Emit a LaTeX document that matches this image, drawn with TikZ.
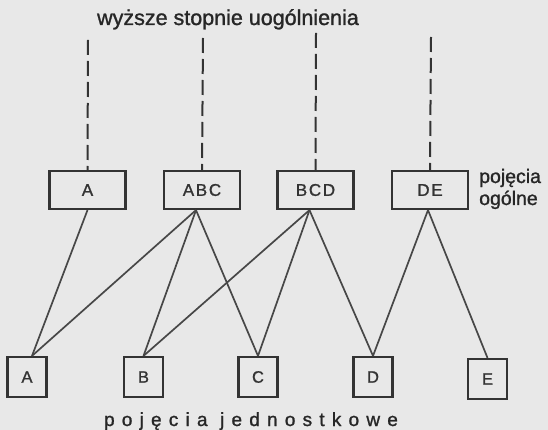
\documentclass[tikz,border=0pt]{standalone}
\usepackage{fontspec}
\setmainfont{Liberation Sans}[FakeBold=1.2]
\newfontfamily\labelfont{Liberation Sans}[FakeBold=1.2]
\begin{document}
\begin{tikzpicture}[x=1pt,y=-1pt,
  general/.style={draw=black!80, line width=2.2pt, minimum width=76pt,
    minimum height=38pt, inner sep=0pt, text=black!80,
    font=\labelfont\fontsize{17}{20}\selectfont\addfontfeatures{LetterSpace=10}},
  single/.style={draw=black!80, line width=2.2pt, minimum width=39pt,
    minimum height=40pt, inner sep=0pt, text=black!80,
    font=\labelfont\fontsize{16.5}{19}\selectfont},
  link/.style={draw=black!72, line width=1.7pt},
  upward/.style={draw=black!80, line width=2pt, dash pattern=on 15pt off 6pt},
  caption/.style={text=black!85, inner sep=0pt}
]
% paper
\fill[black!9] (0,0) rectangle (548,430);
\useasboundingbox (0,0) rectangle (548,430);

% general concepts
\node[general] (gA)   at (87.5,190) {A};
\node[general] (gABC) at (202,190)  {ABC};
\node[general] (gBCD) at (315.5,190) {BCD};
\node[general] (gDE)  at (430,190)  {DE};

% individual concepts
\node[single] (sA) at (27,377)    {A};
\node[single] (sB) at (143.5,377) {B};
\node[single] (sC) at (258,377)   {C};
\node[single] (sD) at (373,377)   {D};
\node[single] (sE) at (487.5,379) {E};

% higher levels of generalisation
\coordinate (uA)   at (88,40);
\coordinate (uABC) at (203,38);
\coordinate (uBCD) at (316,33);
\coordinate (uDE)  at (431,37);
\draw[upward] (uA)   -- (gA.north);
\draw[upward] (uABC) -- (gABC.north);
\draw[upward] (uBCD) -- (gBCD.north);
\draw[upward] (uDE)  -- (gDE.north);

% subordination links
\draw[link] (gA.south) -- ([xshift=5pt]sA.north);
\draw[link] ([xshift=-6pt]gABC.south) -- ([xshift=5pt]sA.north);
\draw[link] ([xshift=-6pt]gABC.south) -- (sB.north);
\draw[link] ([xshift=-6pt]gABC.south) -- (sC.north);
\draw[link] ([xshift=-6pt]gBCD.south) -- (sB.north);
\draw[link] ([xshift=-6pt]gBCD.south) -- (sC.north);
\draw[link] ([xshift=-6pt]gBCD.south) -- (sD.north);
\draw[link] ([xshift=-2pt]gDE.south) -- (sD.north);
\draw[link] ([xshift=-2pt]gDE.south) -- (sE.north);

% captions
\node[caption, anchor=base, font=\fontsize{21.5}{25}\selectfont] (top) at (228,25)
  {wyższe stopnie uogólnienia};
\node[caption, anchor=base west, font=\fontsize{19.5}{22}\selectfont] (gen1) at (479,183) {pojęcia};
\node[caption, anchor=base west, font=\fontsize{19.5}{22}\selectfont] (gen2) at (479,205) {ogólne};
\node[caption, anchor=base, font=\fontsize{19}{22}\selectfont\addfontfeatures{LetterSpace=38}]
  (bottom) at (251,426) {pojęcia jednostkowe};
\end{tikzpicture}
\end{document}
